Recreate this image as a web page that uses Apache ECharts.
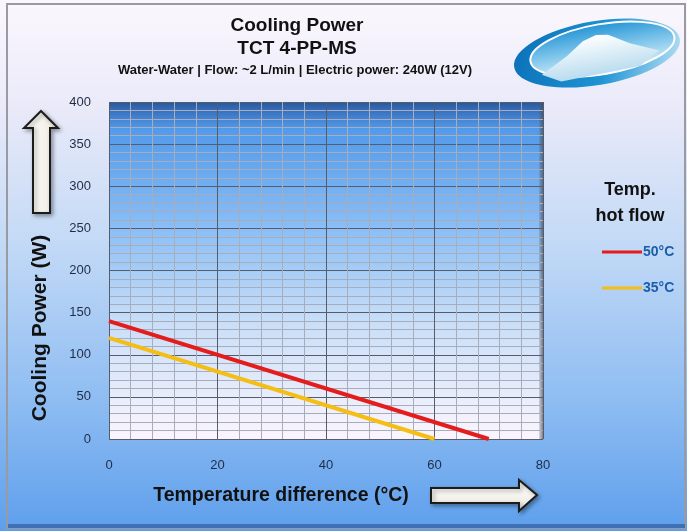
<!DOCTYPE html>
<html>
<head>
<meta charset="utf-8">
<script src="https://cdn.jsdelivr.net/npm/echarts@6/dist/echarts.min.js"></script>
<style>
  html, body { margin: 0; padding: 0; }
  #chart { width: 687px; height: 531px; }
</style>
</head>
<body>
<div id="chart"></div>
<script>
// data
var seriesNames = ['50°C', '35°C'];
var hot50 = [[0, 140], [70, 0]];
var hot35 = [[0, 120], [60, 0]];
var xTicks = [0, 20, 40, 60, 80];
var yTicks = [0, 50, 100, 150, 200, 250, 300, 350, 400];

var chart = echarts.init(document.getElementById('chart'));
var font = '"Liberation Sans", Arial, sans-serif';

var option = {
    backgroundColor: {
        type: 'linear', x: 0, y: 0, x2: 0, y2: 1,
        colorStops: [
            { offset: 0, color: '#fbf7fd' },
            { offset: 0.2, color: '#eaeaf9' },
            { offset: 0.45, color: '#c4daf6' },
            { offset: 0.75, color: '#8fbdf2' },
            { offset: 1, color: '#5e9fec' }
        ]
    },
    animation: false,
    title: [
        {
            text: 'Cooling Power\nTCT 4-PP-MS',
            left: 292, top: 9, textAlign: 'center',
            textStyle: { fontFamily: font, fontSize: 19, fontWeight: 'bold', color: '#111', lineHeight: 23 }
        },
        {
            text: 'Water-Water | Flow: ~2 L/min | Electric power: 240W (12V)',
            left: 290, top: 59, textAlign: 'center',
            textStyle: { fontFamily: font, fontSize: 13, fontWeight: 'bold', color: '#111' }
        },
        {
            text: 'Temp.\nhot flow',
            left: 625, top: 172, textAlign: 'center',
            textStyle: { fontFamily: font, fontSize: 18, fontWeight: 'bold', color: '#111', lineHeight: 26 }
        }
    ],
    legend: {
        orient: 'vertical',
        left: 597, top: 240,
        itemWidth: 40, itemHeight: 3, itemGap: 22,
        icon: 'rect',
        data: seriesNames,
        textStyle: { fontFamily: font, fontSize: 14, fontWeight: 'bold', color: '#1a5ea8', padding: [0, 0, 0, -4] }
    },
    grid: {
        left: 109, right: 144, top: 102, bottom: 92,
        show: true,
        borderWidth: 0,
        backgroundColor: {
            type: 'linear', x: 0, y: 0, x2: 0, y2: 1,
            colorStops: [
                { offset: 0, color: '#2a5797' },
                { offset: 0.035, color: '#3d78c8' },
                { offset: 0.08, color: '#529aea' },
                { offset: 0.35, color: '#86bbf5' },
                { offset: 0.65, color: '#c8def8' },
                { offset: 1, color: '#fbf5fd' }
            ]
        }
    },
    xAxis: {
        type: 'value', min: 0, max: 80, interval: 20,
        axisLine: { show: false },
        axisTick: { show: false },
        axisLabel: {
            margin: 20,
            fontFamily: font, fontSize: 13, color: '#1f2c48',
            formatter: function (v) { return xTicks.indexOf(v) >= 0 ? v : ''; }
        },
        splitLine: { show: true, lineStyle: { color: '#555c6c', width: 1 } },
        minorTick: { show: false, splitNumber: 5 },
        minorSplitLine: { show: true, lineStyle: { color: '#a7adba', width: 1 } }
    },
    yAxis: {
        type: 'value', min: 0, max: 400, interval: 50,
        axisLine: { show: false },
        axisTick: { show: false },
        axisLabel: {
            margin: 18,
            fontFamily: font, fontSize: 13, color: '#1f2c48',
            formatter: function (v) { return yTicks.indexOf(v) >= 0 ? v : ''; }
        },
        splitLine: { show: true, lineStyle: { color: '#555c6c', width: 1 } },
        minorTick: { show: false, splitNumber: 5 },
        minorSplitLine: { show: true, lineStyle: { color: '#a7adba', width: 1 } }
    },
    series: [
        {
            name: seriesNames[0], type: 'line', data: hot50,
            symbol: 'none', color: '#e51c1c',
            lineStyle: { width: 4, color: '#e51c1c' }
        },
        {
            name: seriesNames[1], type: 'line', data: hot35,
            symbol: 'none', color: '#f5be14',
            lineStyle: { width: 4, color: '#f5be14' }
        }
    ],
    graphic: [
        // frame
        { type: 'rect', shape: { x: 7, y: 4, width: 678, height: 524 }, silent: true,
          style: { fill: 'none', stroke: '#9a9aa2', lineWidth: 2 } },
        { type: 'rect', shape: { x: 8, y: 524, width: 677, height: 4 }, silent: true,
          style: { fill: '#3f70b4' } },
        // plot right edge shadow
        { type: 'rect', shape: { x: 539, y: 102, width: 5, height: 337 }, silent: true,
          style: { fill: { type: 'linear', x: 0, y: 0, x2: 1, y2: 0,
            colorStops: [{ offset: 0, color: 'rgba(90,90,100,0.2)' }, { offset: 1, color: 'rgba(70,70,80,0.85)' }] } } },
        // y axis name
        { type: 'text', x: 40, y: 328, rotation: Math.PI / 2, silent: true,
          style: { text: 'Cooling Power (W)', fontFamily: font, fontSize: 21, fontWeight: 'bold', fill: '#111',
                   align: 'center', verticalAlign: 'middle' } },
        // x axis name
        { type: 'text', x: 281, y: 496, silent: true,
          style: { text: 'Temperature difference (°C)', fontFamily: font, fontSize: 19.5, fontWeight: 'bold', fill: '#111',
                   align: 'center', verticalAlign: 'middle' } },
        // up arrow
        { type: 'polygon', silent: true,
          shape: { points: [[33, 213], [33, 128], [24, 128], [41, 111], [58, 128], [50, 128], [50, 213]] },
          style: { fill: { type: 'linear', x: 0, y: 0, x2: 1, y2: 0,
                     colorStops: [{ offset: 0, color: '#ffffff' }, { offset: 1, color: '#ece8dc' }] },
                   stroke: '#1c1c1c', lineWidth: 2, shadowBlur: 4, shadowColor: 'rgba(0,0,0,0.35)', shadowOffsetX: 2, shadowOffsetY: 2 } },
        // right arrow
        { type: 'polygon', silent: true,
          shape: { points: [[431, 488], [519, 488], [519, 480], [537, 495], [519, 511], [519, 503], [431, 503]] },
          style: { fill: { type: 'linear', x: 0, y: 0, x2: 0, y2: 1,
                     colorStops: [{ offset: 0, color: '#ffffff' }, { offset: 1, color: '#ece8dc' }] },
                   stroke: '#1c1c1c', lineWidth: 2, shadowBlur: 4, shadowColor: 'rgba(0,0,0,0.35)', shadowOffsetX: 2, shadowOffsetY: 2 } },
        // logo
        { type: 'group', x: 597, y: 53, rotation: 0.17, silent: true, children: [
            { type: 'ellipse', shape: { cx: 0, cy: 0, rx: 84, ry: 32 },
              style: { fill: { type: 'linear', x: 0, y: 0, x2: 1, y2: 1,
                colorStops: [{ offset: 0, color: '#0a6fb8' }, { offset: 0.55, color: '#1f93d4' }, { offset: 1, color: '#bfe4f6' }] } } },
            { type: 'ellipse', shape: { cx: 6, cy: -3, rx: 73, ry: 25 },
              style: { fill: { type: 'linear', x: 0, y: 0, x2: 0, y2: 1,
                colorStops: [{ offset: 0, color: '#2494d4' }, { offset: 0.45, color: '#78c2ea' }, { offset: 1, color: '#e4f4fb' }] },
                stroke: '#ffffff', lineWidth: 2 } },
            { type: 'polygon', shape: { points: [[-58, 12], [-30, -2], [-12, -14], [2, -18], [14, -16], [34, -4], [62, 8], [40, 20], [-40, 22]] },
              style: { fill: { type: 'linear', x: 0, y: 0, x2: 0, y2: 1,
                colorStops: [{ offset: 0, color: '#ffffff' }, { offset: 1, color: '#b9dcef' }] } } }
        ] }
    ]
};

chart.setOption(option);
</script>
</body>
</html>
